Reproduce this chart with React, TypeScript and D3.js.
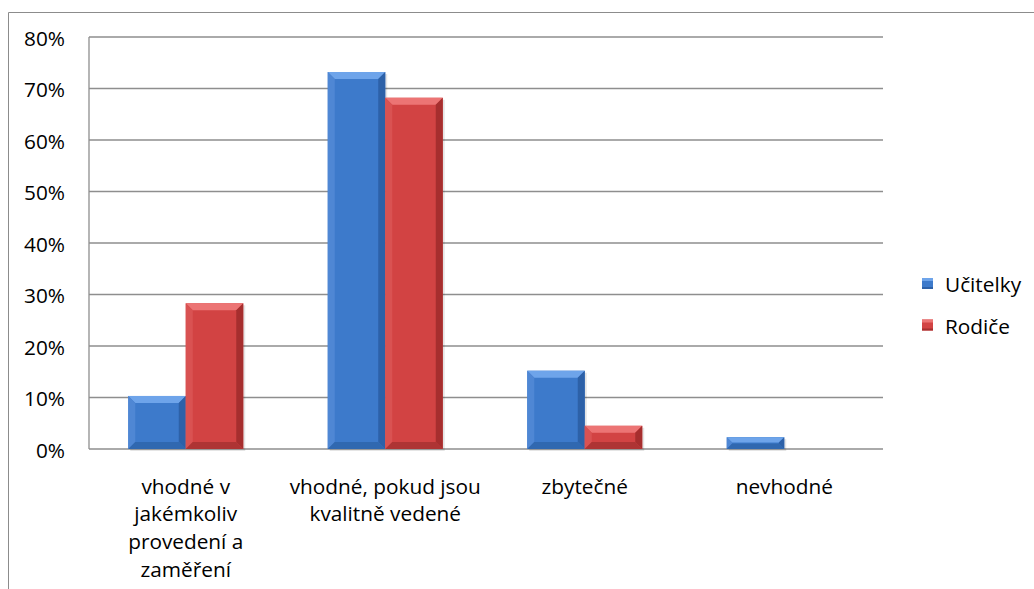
import React from "react";
import * as d3 from "d3";

const categories = [
  ["vhodné v", "jakémkoliv", "provedení a", "zaměření"],
  ["vhodné, pokud jsou", "kvalitně vedené"],
  ["zbytečné"],
  ["nevhodné"],
];
const seriesNames = ["Učitelky", "Rodiče"];
const ucitelky = [10.3, 73.2, 15.2, 2.3];
const rodice = [28.3, 68.2, 4.5, 0];
const yTicks = [0, 10, 20, 30, 40, 50, 60, 70, 80];

const W = 1034;
const H = 589;
const plot = { left: 89, right: 883, top: 37, bottom: 449 };

const palettes = [
  { body: "#3d7acb", top: "#6ea4ea", left: "#4f87d4", right: "#2d61a8", bottom: "#3068b0" },
  { body: "#d24343", top: "#ec7474", left: "#d95252", right: "#a62e2e", bottom: "#ae3434" },
];

function Bar({ x, y, w, h, p }: { x: number; y: number; w: number; h: number; p: typeof palettes[0] }) {
  if (h <= 0) return null;
  const b = Math.min(7, h / 2.2, w / 4);
  const x2 = x + w;
  const y2 = y + h;
  return (
    <g>
      <rect x={x + 2} y={y + 2} width={w} height={h} fill="#000" opacity={0.1} />
      <rect x={x} y={y} width={w} height={h} fill={p.body} />
      <polygon points={`${x},${y} ${x2},${y} ${x2 - b},${y + b} ${x + b},${y + b}`} fill={p.top} />
      <polygon points={`${x},${y} ${x + b},${y + b} ${x + b},${y2 - b} ${x},${y2}`} fill={p.left} />
      <polygon points={`${x2},${y} ${x2},${y2} ${x2 - b},${y2 - b} ${x2 - b},${y + b}`} fill={p.right} />
      <polygon points={`${x},${y2} ${x + b},${y2 - b} ${x2 - b},${y2 - b} ${x2},${y2}`} fill={p.bottom} />
    </g>
  );
}

export default function App() {
  const y = d3.scaleLinear().domain([0, 80]).range([plot.bottom, plot.top]);
  const x0 = d3.scaleBand<number>().domain(d3.range(categories.length)).range([86, 884]).paddingInner(0).paddingOuter(0);
  const bandW = x0.bandwidth();
  const barW = 57.5;
  const series = [ucitelky, rodice];
  const font = "'Open Sans', sans-serif";
  const fs = 20.8;

  return (
    <div style={{ position: "fixed", left: 0, top: 0, width: W, height: H, background: "#fff" }}>
      <svg width={W} height={H} style={{ display: "block" }}>
        <rect x={0} y={0} width={W} height={H} fill="#fff" />
        <line x1={8.5} y1={12.5} x2={W} y2={12.5} stroke="#8c8c8c" strokeWidth={1} />
        <line x1={8.5} y1={12.5} x2={8.5} y2={H} stroke="#8c8c8c" strokeWidth={1} />
        {yTicks.map((t) => (
          <g key={t}>
            <line x1={plot.left} x2={plot.right} y1={y(t)} y2={y(t)} stroke="#8e8e8e" strokeWidth={1.3} />
            <text x={65} y={y(t) + 8.7} textAnchor="end" fontFamily={font} fontSize={fs} fill="#000">
              {t}%
            </text>
          </g>
        ))}
        <line x1={plot.left} x2={plot.left} y1={plot.top} y2={plot.bottom} stroke="#8e8e8e" strokeWidth={1.3} />
        {categories.map((_, i) => {
          const c = (x0(i) as number) + bandW / 2;
          return series.map((s, k) => {
            const bx = c - barW + k * barW;
            const top = y(s[i]);
            return <Bar key={`${i}-${k}`} x={bx} y={top} w={barW} h={plot.bottom - top} p={palettes[k]} />;
          });
        })}
        {categories.map((lines, i) => {
          const c = (x0(i) as number) + bandW / 2;
          return (
            <text key={i} textAnchor="middle" fontFamily={font} fontSize={fs} fill="#000">
              {lines.map((l, j) => (
                <tspan key={j} x={c} y={493.5 + j * 27.8}>
                  {l}
                </tspan>
              ))}
            </text>
          );
        })}
        {seriesNames.map((n, k) => (
          <g key={n} transform={`translate(922, ${278 + k * 41.5})`}>
            <rect x={0} y={0} width={11} height={11} fill={palettes[k].body} />
            <rect x={0} y={0} width={11} height={3} fill={palettes[k].top} />
            <rect x={0} y={9} width={11} height={2} fill={palettes[k].right} />
            <text x={23} y={14.3} fontFamily={font} fontSize={fs} fill="#000">
              {n}
            </text>
          </g>
        ))}
      </svg>
    </div>
  );
}
